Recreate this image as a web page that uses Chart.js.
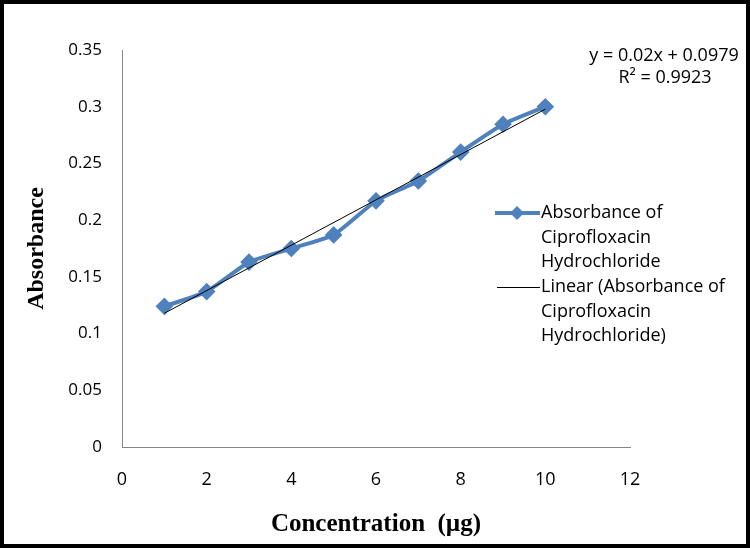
<!DOCTYPE html>
<html>
<head>
<meta charset="utf-8">
<script src="https://cdn.jsdelivr.net/npm/chart.js@4"></script>
<style>
  html, body { margin: 0; padding: 0; background: #fff; }
  #wrap { width: 750px; height: 548px; }
</style>
</head>
<body>
<div id="wrap"><canvas id="playground" width="750" height="548"></canvas></div>
<script>
// calibration data
const concentration = [1, 2, 3, 4, 5, 6, 7, 8, 9, 10]
const absorbance = [0.124, 0.137, 0.163, 0.175, 0.187, 0.217, 0.2345, 0.26, 0.2845, 0.3]
const trendX = [1, 10]
const trendY = [0.1179, 0.2979]
const xTicks = ['0', '2', '4', '6', '8', '10', '12']
const yTicks = ['0', '0.05', '0.1', '0.15', '0.2', '0.25', '0.3', '0.35']
const equation = ['y = 0.02x + 0.0979', 'R² = 0.9923']
const legendOne = ['Absorbance of', 'Ciprofloxacin', 'Hydrochloride']
const legendTwo = ['Linear (Absorbance of', 'Ciprofloxacin', 'Hydrochloride)']

const toPoints = (xs, ys) => xs.map((x, i) => ({ x: x, y: ys[i] }))

const labelFont = "'Open Sans', sans-serif"
const titleFont = "'Liberation Serif', 'Times New Roman', serif"

const extras = {
  id: 'extras',
  beforeDraw(chart) {
    const c = chart.ctx
    c.save()
    c.fillStyle = '#fff'
    c.fillRect(0, 0, chart.width, chart.height)
    c.restore()
  },
  afterDraw(chart) {
    const c = chart.ctx
    c.save()
    // outer frame
    c.strokeStyle = '#000'
    c.lineWidth = 4
    c.strokeRect(2, 2, chart.width - 4, chart.height - 4)

    // trendline equation
    c.fillStyle = '#000'
    c.font = '18px ' + labelFont
    c.textAlign = 'center'
    c.textBaseline = 'middle'
    c.fillText(equation[0], 664, 56)
    c.fillText(equation[1], 665, 78)

    // legend
    c.textAlign = 'left'
    c.font = '18px ' + labelFont
    legendOne.forEach((t, i) => c.fillText(t, 541, 213 + i * 24.5))
    legendTwo.forEach((t, i) => c.fillText(t, 541, 287 + i * 24.5))

    c.strokeStyle = '#4F81BD'
    c.lineWidth = 4
    c.beginPath()
    c.moveTo(495, 213)
    c.lineTo(540, 213)
    c.stroke()
    c.fillStyle = '#4F81BD'
    c.beginPath()
    c.moveTo(517, 206)
    c.lineTo(524, 213)
    c.lineTo(517, 220)
    c.lineTo(510, 213)
    c.closePath()
    c.fill()

    c.strokeStyle = '#000'
    c.lineWidth = 1
    c.beginPath()
    c.moveTo(497, 287.5)
    c.lineTo(540, 287.5)
    c.stroke()
    c.restore()
  },
}

const ctx = document.getElementById('playground').getContext('2d')
const myChart = new Chart(ctx, {
  type: 'scatter',
  data: {
    datasets: [
      {
        label: 'Absorbance of Ciprofloxacin Hydrochloride',
        data: toPoints(concentration, absorbance),
        showLine: true,
        borderColor: '#4F81BD',
        backgroundColor: '#4F81BD',
        borderWidth: 4,
        tension: 0.15,
        pointStyle: 'rectRot',
        pointRadius: 6,
        pointHoverRadius: 6,
        order: 2,
      },
      {
        label: 'Linear (Absorbance of Ciprofloxacin Hydrochloride)',
        data: toPoints(trendX, trendY),
        showLine: true,
        borderColor: '#000',
        borderWidth: 1,
        pointRadius: 0,
        order: 1,
      },
    ],
  },
  options: {
    responsive: false,
    animation: false,
    events: [],
    layout: {
      padding: { top: 50, right: 120, left: 0, bottom: 0 },
    },
    scales: {
      x: {
        type: 'linear',
        min: 0,
        max: 12,
        afterFit: (s) => { s.height = 101 },
        border: { color: '#868686', width: 1 },
        grid: { display: false, drawTicks: false },
        ticks: {
          stepSize: 2,
          padding: 22,
          color: '#000',
          font: { family: labelFont, size: 18 },
          callback: (v, i) => xTicks[i],
        },
        title: {
          display: true,
          text: 'Concentration  (µg)',
          color: '#000',
          font: { family: titleFont, size: 25, weight: 'bold' },
          padding: { top: 10, bottom: 8 },
        },
      },
      y: {
        min: 0,
        max: 0.35,
        afterFit: (s) => { s.width = 122 },
        border: { color: '#868686', width: 1 },
        grid: { display: false, drawTicks: false },
        ticks: {
          stepSize: 0.05,
          padding: 20,
          color: '#000',
          font: { family: labelFont, size: 17 },
          callback: (v, i) => yTicks[i],
        },
        title: {
          display: true,
          text: 'Absorbance',
          color: '#000',
          font: { family: titleFont, size: 24, weight: 'bold' },
          padding: { top: 22, bottom: 0 },
        },
      },
    },
    plugins: {
      legend: { display: false },
      tooltip: { enabled: false },
    },
  },
  plugins: [extras],
})
</script>
</body>
</html>
